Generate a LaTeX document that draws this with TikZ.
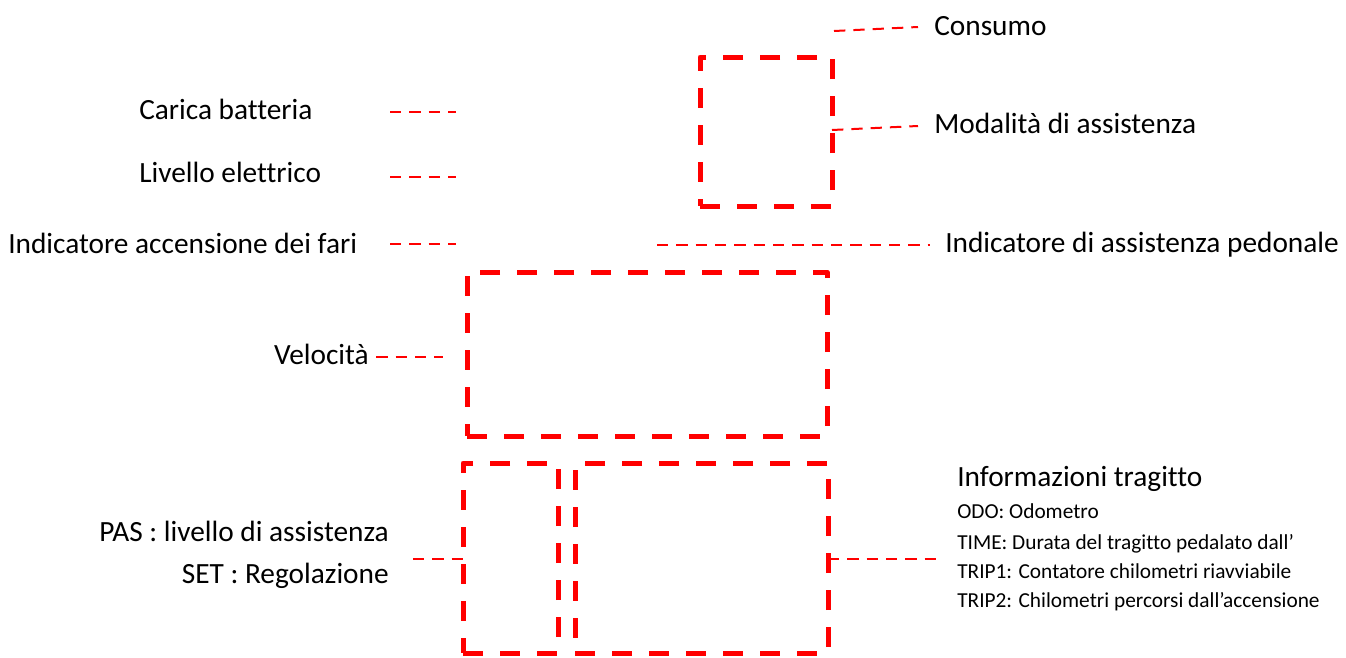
\documentclass[tikz,border=0pt]{standalone}
\usepackage{fontspec}
\setmainfont{Carlito}[Ligatures=NoCommon]
\definecolor{boxred}{RGB}{255,0,0}
\begin{document}
\begin{tikzpicture}[x=0.75pt,y=-0.75pt,
  bigbox/.style={draw=boxred,line width=3.75pt,dash pattern=on 15pt off 12.75pt,line join=round,inner sep=0pt,outer sep=0pt},
  conn/.style={draw=boxred,line width=1.5pt,dash pattern=on 8.5pt off 6pt},
  lab/.style={inner sep=0pt,font=\fontsize{22}{26}\selectfont},
  small/.style={inner sep=0pt,font=\fontsize{16}{19}\selectfont,anchor=base west},
]
\useasboundingbox (0,0) rectangle (1346,657);
% boxes
\node[bigbox,minimum width=99pt,minimum height=111.75pt] (mod) at (766,131.5) {};
\node[bigbox,minimum width=270pt,minimum height=123pt] (vel) at (647,354) {};
\node[bigbox,minimum width=71.25pt,minimum height=142.5pt] (pas) at (510.5,558) {};
\node[bigbox,minimum width=189.75pt,minimum height=142.5pt] (trip) at (701.5,558) {};
% labels
\node[lab,anchor=base west] (cons) at (934,35) {Consumo};
\node[lab,anchor=base west] (moda) at (934,133) {Modalità di assistenza};
\node[lab,anchor=base west] (carica) at (139,119) {Carica batteria};
\node[lab,anchor=base west] (livello) at (139,182) {Livello elettrico};
\node[lab,anchor=base west] (fari) at (8,253) {Indicatore accensione dei fari};
\node[lab,anchor=base west] (pedo) at (945,252) {Indicatore di assistenza pedonale};
\node[lab,anchor=base east] (velo) at (369,364) {Velocità};
\node[lab,anchor=base east] (paslab) at (389,541) {PAS : livello di assistenza};
\node[lab,anchor=base east] (setlab) at (389,583) {SET : Regolazione};
\node[lab,anchor=base west] (info) at (957,486) {Informazioni tragitto};
\node[small] (odo) at (957,518) {ODO: Odometro};
\node[small] (time) at (957,549) {TIME: Durata del tragitto pedalato dall’};
\node[small] (trip1) at (957,578) {TRIP1: Contatore chilometri riavviabile};
\node[small] (trip2) at (957,607) {TRIP2: Chilometri percorsi dall’accensione};
% connector free ends
\coordinate (c1) at (834,31);
\coordinate (c2) at (918,27);
\coordinate (m1) at (918,126);
\coordinate (cb1) at (390,112);
\coordinate (cb2) at (456,112);
\coordinate (le1) at (390,177);
\coordinate (le2) at (456,177);
\coordinate (fa1) at (390,244);
\coordinate (fa2) at (456,244);
\coordinate (pe1) at (657,245);
\coordinate (pe2) at (930,245);
\coordinate (ve2) at (443,357);
\coordinate (pa1) at (413,559);
\coordinate (tr2) at (940,559);
% connectors
\draw[conn] ([xshift=5.5pt]velo.east |- 0,357) -- (ve2);
\draw[conn] (c1) -- (c2);
\draw[conn] (mod.east |- 0,130) -- (m1);
\draw[conn] (cb1) -- (cb2);
\draw[conn] (le1) -- (le2);
\draw[conn] (fa1) -- (fa2);
\draw[conn] (pe1) -- (pe2);
\draw[conn] (pa1) -- (pas.west |- 0,559);
\draw[conn] (trip.east |- 0,559) -- (tr2);
\end{tikzpicture}
\end{document}
